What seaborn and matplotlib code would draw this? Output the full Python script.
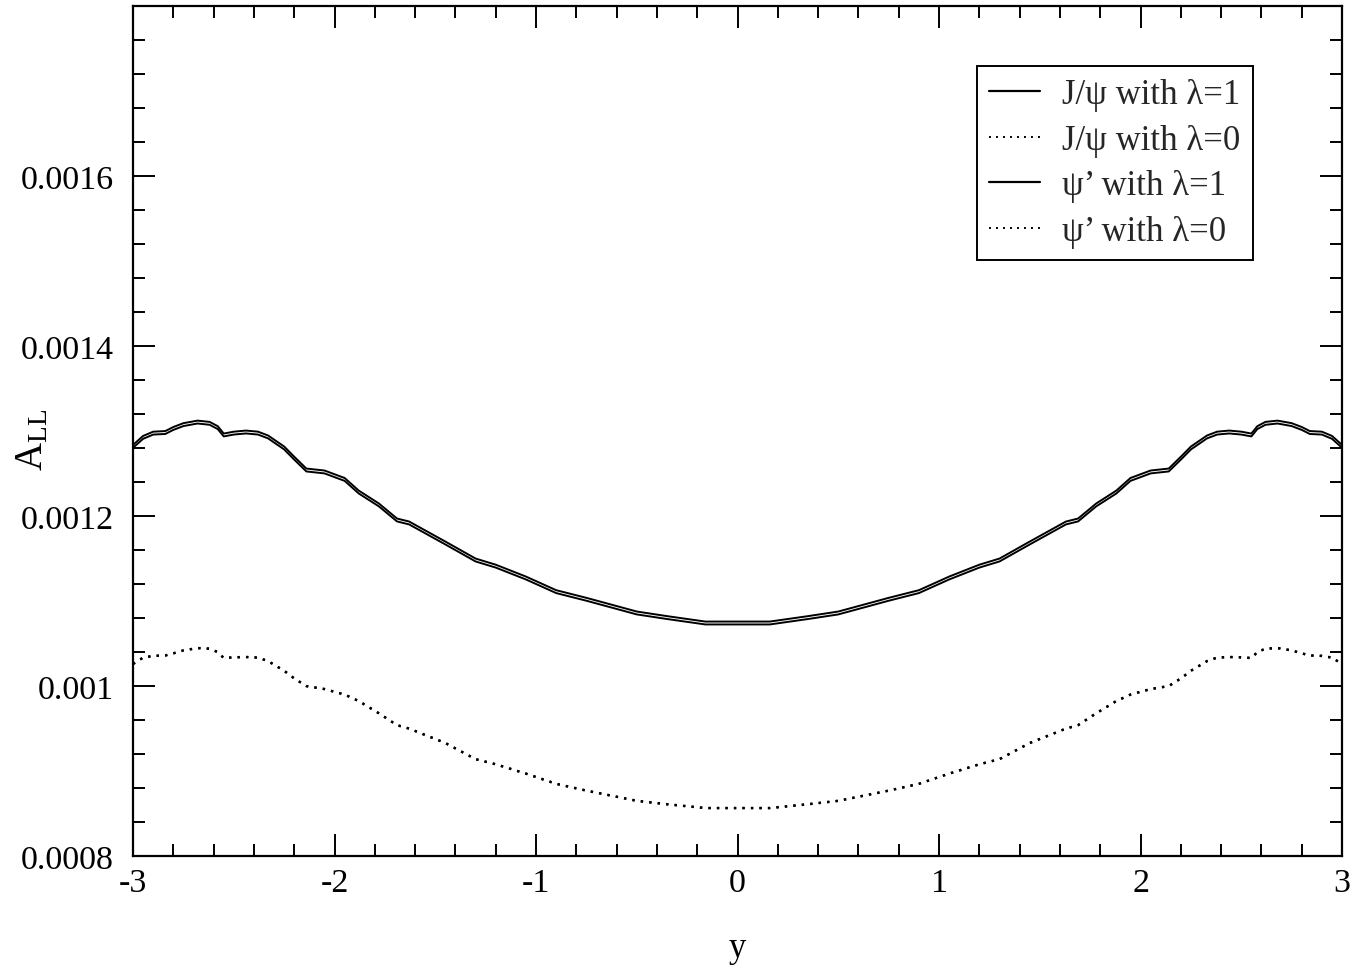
import matplotlib
matplotlib.use("Agg")
import matplotlib.pyplot as plt
import seaborn as sns
import pandas as pd
from matplotlib.ticker import FixedLocator, MultipleLocator, FuncFormatter

# Rapidity grid
rapidity = [-3.0, -2.95, -2.9, -2.84, -2.8, -2.75, -2.68, -2.62, -2.58, -2.55,
            -2.5, -2.44, -2.38, -2.33, -2.25, -2.2, -2.14, -2.05, -1.95, -1.88,
            -1.78, -1.69, -1.63, -1.45, -1.3, -1.2, -1.05, -0.9, -0.75, -0.5,
            -0.35, -0.16, 0.16, 0.35, 0.5, 0.75, 0.9, 1.05, 1.2, 1.3,
            1.45, 1.63, 1.69, 1.78, 1.88, 1.95, 2.05, 2.14, 2.2, 2.25,
            2.33, 2.38, 2.44, 2.5, 2.55, 2.58, 2.62, 2.68, 2.75, 2.8,
            2.84, 2.9, 2.95, 3.0]

# A_LL for J/psi, lambda = 1
jpsi_lam1 = [1.2837e-3, 1.2942e-3, 1.2992e-3, 1.2999e-3, 1.3047e-3, 1.3092e-3, 1.3122e-3, 1.3107e-3, 1.3057e-3, 1.2970e-3,
             1.2992e-3, 1.3005e-3, 1.2992e-3, 1.2947e-3, 1.2817e-3, 1.2697e-3, 1.2558e-3, 1.2535e-3, 1.2447e-3, 1.2299e-3,
             1.2147e-3, 1.1970e-3, 1.1935e-3, 1.1699e-3, 1.1499e-3, 1.1427e-3, 1.1287e-3, 1.1127e-3, 1.1037e-3, 1.0876e-3,
             1.0822e-3, 1.0758e-3, 1.0758e-3, 1.0822e-3, 1.0876e-3, 1.1037e-3, 1.1127e-3, 1.1287e-3, 1.1427e-3, 1.1499e-3,
             1.1699e-3, 1.1935e-3, 1.1970e-3, 1.2147e-3, 1.2299e-3, 1.2447e-3, 1.2535e-3, 1.2558e-3, 1.2697e-3, 1.2817e-3,
             1.2947e-3, 1.2992e-3, 1.3005e-3, 1.2992e-3, 1.2970e-3, 1.3057e-3, 1.3107e-3, 1.3122e-3, 1.3092e-3, 1.3047e-3,
             1.2999e-3, 1.2992e-3, 1.2942e-3, 1.2837e-3]

# A_LL for J/psi, lambda = 0
jpsi_lam0 = [1.0260e-3, 1.0335e-3, 1.0355e-3, 1.0360e-3, 1.0385e-3, 1.0420e-3, 1.0447e-3, 1.0440e-3, 1.0400e-3, 1.0330e-3,
             1.0338e-3, 1.0342e-3, 1.0335e-3, 1.0294e-3, 1.0180e-3, 1.0090e-3, 1.0000e-3, 0.9965e-3, 0.9900e-3, 0.9824e-3,
             0.9680e-3, 0.9540e-3, 0.9500e-3, 0.9330e-3, 0.9140e-3, 0.9080e-3, 0.8970e-3, 0.8850e-3, 0.8770e-3, 0.8650e-3,
             0.8610e-3, 0.8565e-3, 0.8565e-3, 0.8610e-3, 0.8650e-3, 0.8770e-3, 0.8850e-3, 0.8970e-3, 0.9080e-3, 0.9140e-3,
             0.9330e-3, 0.9500e-3, 0.9540e-3, 0.9680e-3, 0.9824e-3, 0.9900e-3, 0.9965e-3, 1.0000e-3, 1.0090e-3, 1.0180e-3,
             1.0294e-3, 1.0335e-3, 1.0342e-3, 1.0338e-3, 1.0330e-3, 1.0400e-3, 1.0440e-3, 1.0447e-3, 1.0420e-3, 1.0385e-3,
             1.0360e-3, 1.0355e-3, 1.0335e-3, 1.0260e-3]

# A_LL for psi', lambda = 1
psip_lam1 = [1.2803e-3, 1.2908e-3, 1.2958e-3, 1.2965e-3, 1.3013e-3, 1.3058e-3, 1.3088e-3, 1.3073e-3, 1.3023e-3, 1.2936e-3,
             1.2958e-3, 1.2971e-3, 1.2958e-3, 1.2913e-3, 1.2783e-3, 1.2663e-3, 1.2524e-3, 1.2501e-3, 1.2413e-3, 1.2265e-3,
             1.2113e-3, 1.1936e-3, 1.1901e-3, 1.1665e-3, 1.1465e-3, 1.1393e-3, 1.1253e-3, 1.1093e-3, 1.1003e-3, 1.0842e-3,
             1.0788e-3, 1.0724e-3, 1.0724e-3, 1.0788e-3, 1.0842e-3, 1.1003e-3, 1.1093e-3, 1.1253e-3, 1.1393e-3, 1.1465e-3,
             1.1665e-3, 1.1901e-3, 1.1936e-3, 1.2113e-3, 1.2265e-3, 1.2413e-3, 1.2501e-3, 1.2524e-3, 1.2663e-3, 1.2783e-3,
             1.2913e-3, 1.2958e-3, 1.2971e-3, 1.2958e-3, 1.2936e-3, 1.3023e-3, 1.3073e-3, 1.3088e-3, 1.3058e-3, 1.3013e-3,
             1.2965e-3, 1.2958e-3, 1.2908e-3, 1.2803e-3]

# A_LL for psi', lambda = 0
psip_lam0 = [1.0258e-3, 1.0333e-3, 1.0353e-3, 1.0358e-3, 1.0383e-3, 1.0418e-3, 1.0445e-3, 1.0438e-3, 1.0398e-3, 1.0328e-3,
             1.0336e-3, 1.0340e-3, 1.0333e-3, 1.0292e-3, 1.0178e-3, 1.0088e-3, 0.9998e-3, 0.9963e-3, 0.9898e-3, 0.9822e-3,
             0.9678e-3, 0.9538e-3, 0.9498e-3, 0.9328e-3, 0.9138e-3, 0.9078e-3, 0.8968e-3, 0.8848e-3, 0.8768e-3, 0.8648e-3,
             0.8608e-3, 0.8563e-3, 0.8563e-3, 0.8608e-3, 0.8648e-3, 0.8768e-3, 0.8848e-3, 0.8968e-3, 0.9078e-3, 0.9138e-3,
             0.9328e-3, 0.9498e-3, 0.9538e-3, 0.9678e-3, 0.9822e-3, 0.9898e-3, 0.9963e-3, 0.9998e-3, 1.0088e-3, 1.0178e-3,
             1.0292e-3, 1.0333e-3, 1.0340e-3, 1.0336e-3, 1.0328e-3, 1.0398e-3, 1.0438e-3, 1.0445e-3, 1.0418e-3, 1.0383e-3,
             1.0358e-3, 1.0353e-3, 1.0333e-3, 1.0258e-3]

series_labels = ["J/ψ with λ=1", "J/ψ with λ=0", "ψ’ with λ=1", "ψ’ with λ=0"]
y_major = [0.0008, 0.001, 0.0012, 0.0014, 0.0016]
x_major = [-3, -2, -1, 0, 1, 2, 3]

sns.set_theme(style="ticks")
plt.rcParams["font.family"] = ["Liberation Serif", "DejaVu Serif"]
plt.rcParams["mathtext.fontset"] = "custom"
plt.rcParams["mathtext.rm"] = "Liberation Serif"
plt.rcParams["axes.unicode_minus"] = False

fig = plt.figure(figsize=(13.69, 9.70), dpi=100)
ax = fig.add_axes([0.0972, 0.1165, 0.8831, 0.8763])

solid = dict(color="black", lw=1.4, linestyle="-")
dotted = dict(color="black", lw=1.7, linestyle=(0, (1, 2.6)))

for values, label, style in zip([jpsi_lam1, jpsi_lam0, psip_lam1, psip_lam0],
                                series_labels,
                                [solid, dotted, solid, dotted]):
    df = pd.DataFrame({"y": rapidity, "A_LL": values})
    sns.lineplot(data=df, x="y", y="A_LL", ax=ax, label=label, sort=False, **style)

ax.set_xlim(-3, 3)
ax.set_ylim(0.0008, 0.0018)
ax.xaxis.set_major_locator(FixedLocator(x_major))
ax.xaxis.set_minor_locator(MultipleLocator(0.2))
ax.yaxis.set_major_locator(FixedLocator(y_major))
ax.yaxis.set_minor_locator(MultipleLocator(0.00004))
ax.xaxis.set_major_formatter(FuncFormatter(lambda v, p: "%g" % v))
ax.yaxis.set_major_formatter(FuncFormatter(lambda v, p: "%g" % v))

ax.tick_params(which="both", direction="in", top=True, right=True,
               width=1.4, color="black", labelcolor="black", labelsize=24.5)
ax.tick_params(which="major", length=16)
ax.tick_params(which="minor", length=8.5)
ax.tick_params(axis="x", which="major", pad=8)
ax.tick_params(axis="y", which="major", pad=14)
for sp in ax.spines.values():
    sp.set_linewidth(1.6)
    sp.set_color("black")

ax.set_xlabel("y", fontsize=25, color="black")
ax.set_ylabel(r"$\mathregular{A_{LL}}$", fontsize=28, color="black")
ax.xaxis.set_label_coords(0.5, -0.088)
ax.yaxis.set_label_coords(-0.068, 0.49)

leg = ax.legend(loc="upper right", bbox_to_anchor=(0.926, 0.929), frameon=True,
                fancybox=False, edgecolor="black", fontsize=25,
                handlelength=1.45, handletextpad=0.65, labelspacing=0.36,
                borderpad=0.35, borderaxespad=0.0)
leg.get_frame().set_linewidth(1.4)
leg.get_frame().set_alpha(1)
for h in leg.get_lines():
    h.set_linewidth(1.6 if h.get_linestyle() == "-" else 1.4)

fig.savefig("out.png", dpi=100, facecolor="white")
